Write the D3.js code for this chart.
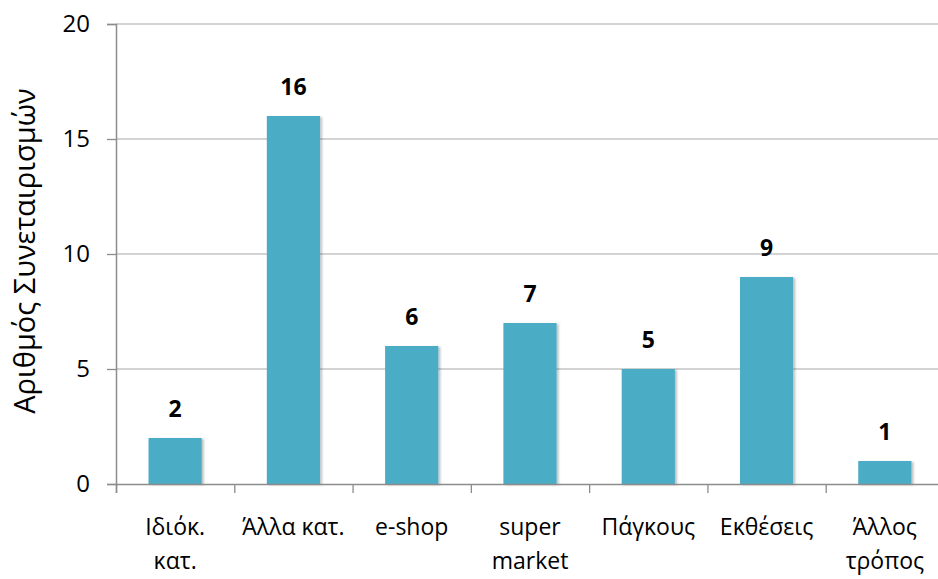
<!DOCTYPE html>
<html>
<head>
<meta charset="utf-8">
<script src="https://cdn.jsdelivr.net/npm/d3@7"></script>
<style>
  body { margin: 0; background: #fff; }
  text { font-family: "Open Sans", "Noto Sans", sans-serif; }
</style>
</head>
<body>
<div id="chart"></div>
<script>
// data
var categories = [["Ιδιόκ.", "κατ."], ["Άλλα κατ."], ["e-shop"], ["super", "market"], ["Πάγκους"], ["Εκθέσεις"], ["Άλλος", "τρόπος"]];
var values = [2, 16, 6, 7, 5, 9, 1];
var yTicks = [0, 5, 10, 15, 20];
var yTitle = "Αριθμός Συνεταιρισμών";

var margin = { top: 24, right: 0, bottom: 95, left: 116 },
  width = 828,
  height = 579 - margin.top - margin.bottom;

var svg = d3.select("#chart")
  .append("svg")
  .attr("width", 938)
  .attr("height", 579);

// soft shadow like the excel bars
var defs = svg.append("defs");
var f = defs.append("filter").attr("id", "shadow")
  .attr("x", "-10%").attr("y", "-10%").attr("width", "130%").attr("height", "130%");
f.append("feDropShadow").attr("dx", 2).attr("dy", 1).attr("stdDeviation", 1.2)
  .attr("flood-color", "#000").attr("flood-opacity", 0.25);

var g = svg.append("g")
  .attr("transform", "translate(" + margin.left + "," + margin.top + ")");

var x = d3.scaleBand()
  .domain(d3.range(values.length))
  .range([0, width])
  .paddingInner(0.55)
  .paddingOuter(0.275);

var y = d3.scaleLinear()
  .domain([0, 20])
  .range([height, 0]);

// gridlines
g.selectAll(".grid")
  .data(yTicks.slice(1))
  .enter().append("line")
  .attr("x1", 0).attr("x2", width)
  .attr("y1", d => y(d)).attr("y2", d => y(d))
  .attr("stroke", "#c4c4c4")
  .attr("stroke-width", 1.3);

// y axis
var yAxis = g.append("g")
  .call(d3.axisLeft(y).tickValues(yTicks).tickSize(9).tickPadding(17));
yAxis.select(".domain").attr("stroke", "#8c8c8c").attr("stroke-width", 1.5);
yAxis.selectAll(".tick line").attr("stroke", "#8c8c8c").attr("stroke-width", 1.3);
yAxis.selectAll(".tick text")
  .attr("font-size", 24)
  .attr("fill", "#000")
  .attr("font-family", "'Open Sans', sans-serif");

// bars
g.selectAll(".bar")
  .data(values)
  .enter().append("rect")
  .attr("x", (d, i) => x(i))
  .attr("y", d => y(d))
  .attr("width", x.bandwidth())
  .attr("height", d => height - y(d))
  .attr("fill", "#4bacc6")
  .attr("filter", "url(#shadow)");

// x axis: ticks on band boundaries
var xb = d3.scaleLinear().domain([0, values.length]).range([0, width]);
var xAxis = g.append("g")
  .attr("transform", "translate(0," + height + ")")
  .call(d3.axisBottom(xb).ticks(values.length).tickSize(9).tickFormat(""));
xAxis.select(".domain").attr("stroke", "#8c8c8c").attr("stroke-width", 1.5);
xAxis.selectAll(".tick line").attr("stroke", "#8c8c8c").attr("stroke-width", 1.3);

// category labels
var lab = g.selectAll(".cat")
  .data(categories)
  .enter().append("text")
  .attr("text-anchor", "middle")
  .attr("font-size", 23)
  .attr("fill", "#000");
lab.selectAll("tspan")
  .data((d, i) => d.map(s => ({ s: s, i: i })))
  .enter().append("tspan")
  .attr("x", d => x(d.i) + x.bandwidth() / 2)
  .attr("y", (d, j) => height + 51 + j * 34)
  .text(d => d.s);

// value labels
g.selectAll(".val")
  .data(values)
  .enter().append("text")
  .attr("x", (d, i) => x(i) + x.bandwidth() / 2)
  .attr("y", d => y(d) - 21)
  .attr("text-anchor", "middle")
  .attr("font-size", 23)
  .attr("font-weight", "bold")
  .attr("fill", "#000")
  .text(d => d);

// y title
svg.append("text")
  .attr("transform", "translate(35," + (margin.top + height / 2 - 3) + ") rotate(-90)")
  .attr("text-anchor", "middle")
  .attr("font-size", 29)
  .attr("fill", "#000")
  .text(yTitle);
</script>
</body>
</html>
